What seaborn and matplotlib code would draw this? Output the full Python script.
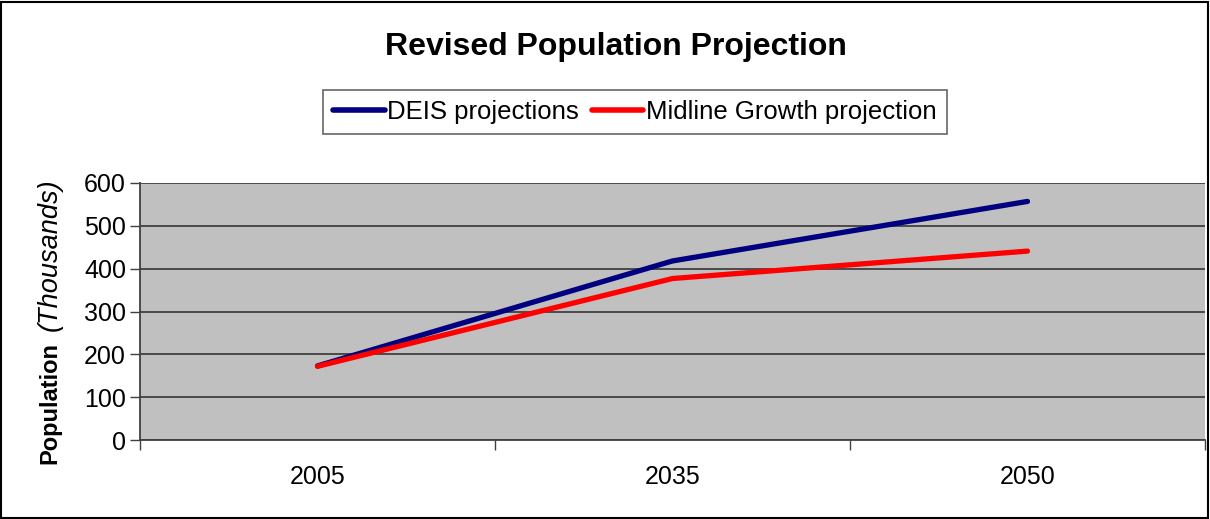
import pandas as pd
import matplotlib
matplotlib.use("Agg")
import matplotlib.pyplot as plt
import seaborn as sns
from matplotlib.patches import Rectangle

# data
years = ["2005", "2035", "2050"]
deis = [173, 418, 557]
midline = [172, 377, 441]
series_names = ["DEIS projections", "Midline Growth projection"]
colors = ["#000080", "#FF0000"]
yticks = [0, 100, 200, 300, 400, 500, 600]

df = pd.DataFrame({
    "year": years * 2,
    "value": deis + midline,
    "series": [series_names[0]] * 3 + [series_names[1]] * 3,
})

sns.set_style("white")
plt.rcParams["font.family"] = ["Liberation Sans", "DejaVu Sans"]
plt.rcParams["text.color"] = "black"
plt.rcParams["xtick.color"] = "black"
plt.rcParams["ytick.color"] = "black"

fig = plt.figure(figsize=(12.1, 5.19), dpi=100)
ax = fig.add_axes([140 / 1210, 1 - 440 / 519, 1065 / 1210, 257 / 519])
ax.set_facecolor("#C0C0C0")

sns.lineplot(data=df, x="year", y="value", hue="series", hue_order=series_names,
             palette=colors, linewidth=3.8, ax=ax, sort=False,
             solid_capstyle="round", legend=True)

ax.set_xlim(-0.5, len(years) - 0.5)
ax.set_ylim(0, 600)
ax.set_yticks(yticks)
ax.set_yticklabels([str(t) for t in yticks])
ax.yaxis.grid(True, color="#404040", linewidth=1.3)
ax.set_axisbelow(True)

# category boundaries as ticks, labels centered
ax.set_xticks([i - 0.5 for i in range(len(years) + 1)])
ax.set_xticklabels([])
ax.set_xticks(range(len(years)), minor=True)
ax.set_xticklabels(years, minor=True)
ax.tick_params(axis="x", which="major", direction="out", length=7, width=1, color="#404040", bottom=True)
ax.tick_params(axis="x", which="minor", length=0, pad=18, labelsize=18, labelcolor="black")
ax.tick_params(axis="y", direction="out", length=7, width=1, color="#404040", left=True, pad=3,
               labelsize=18, labelcolor="black")
ax.set_xlabel("")
ax.set_ylabel("")

for side in ["top", "right"]:
    ax.spines[side].set_visible(False)
for side in ["left", "bottom"]:
    ax.spines[side].set_color("#404040")
    ax.spines[side].set_linewidth(1.3)

handles, labels = ax.get_legend_handles_labels()
ax.legend_.remove()
for h in handles:
    h.set_linewidth(4)
    h.set_solid_capstyle("round")
leg = fig.legend(handles, labels, loc="center", bbox_to_anchor=(635 / 1210, 1 - 112 / 519),
                 ncol=2, fontsize=18.5, frameon=True, fancybox=False, handlelength=2.0,
                 handletextpad=0.1, columnspacing=0.5, borderpad=0.4, edgecolor="#404040")
leg.get_frame().set_linewidth(1.2)

fig.text(616 / 1210, 1 - 47 / 519, "Revised Population Projection", ha="center", va="center",
         fontsize=23, fontweight="bold")

fig.text(50 / 1210, 1 - 403 / 519, "Population", rotation=90, ha="center", va="center",
         fontsize=17, fontweight="bold")
fig.text(50 / 1210, 1 - 255 / 519, "(Thousands)", rotation=90, ha="center", va="center",
         fontsize=19.5, fontstyle="italic")

fig.patches.append(Rectangle((0.001, 0.002), 0.997, 0.995, transform=fig.transFigure,
                             fill=False, edgecolor="black", linewidth=1.5))

fig.savefig("out.png", dpi=100)
plt.close(fig)
